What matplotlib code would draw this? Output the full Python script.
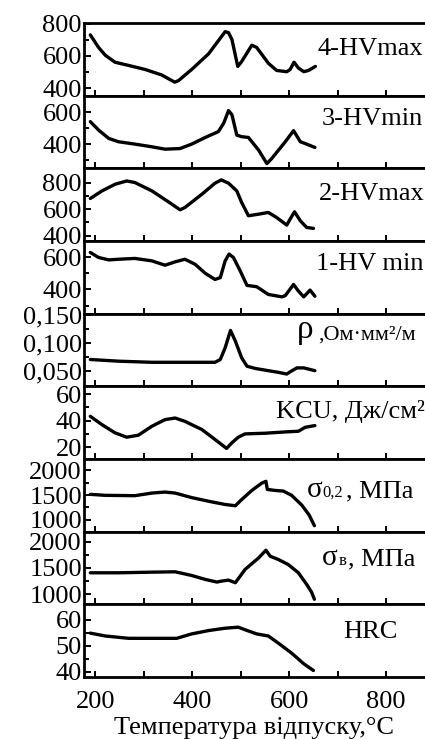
import matplotlib
matplotlib.use("Agg")
import matplotlib.pyplot as plt
from matplotlib.ticker import FixedLocator, FuncFormatter

plt.rcParams['font.family'] = ['Liberation Serif', 'DejaVu Serif']

W, H = 425, 739

# --- data (temperature in C) ---
hv4_t = [190, 207, 221, 241, 269, 303, 337, 364, 372, 399, 434, 468, 475, 482,
         494, 502, 523, 533, 557, 574, 595, 602, 610, 619, 630, 640, 654]
hv4 = [731, 653, 604, 561, 541, 516, 482, 437, 447, 516, 614, 751, 745, 702,
       535, 565, 667, 653, 555, 510, 502, 516, 561, 525, 502, 510, 535]

hv3_t = [190, 207, 228, 248, 282, 317, 344, 375, 399, 427, 454, 465, 475, 482,
         492, 502, 516, 537, 554, 564, 592, 609, 623, 636, 653]
hv3 = [542, 489, 436, 415, 400, 383, 368, 372, 400, 442, 479, 532, 612, 585,
       457, 447, 442, 362, 277, 309, 415, 485, 415, 400, 379]

hv2_t = [190, 214, 241, 265, 282, 317, 351, 375, 385, 420, 447, 460, 475, 492,
         502, 516, 537, 557, 574, 595, 602, 611, 623, 636, 650]
hv2 = [680, 737, 787, 812, 800, 737, 655, 595, 612, 712, 795, 820, 795, 737,
       650, 550, 562, 575, 537, 480, 525, 580, 512, 462, 455]

hv1_t = [190, 207, 228, 248, 282, 317, 344, 365, 385, 406, 427, 447, 458, 468,
         476, 485, 499, 513, 533, 557, 585, 592, 609, 619, 630, 639, 643, 653]
hv1 = [629, 598, 583, 587, 592, 577, 550, 571, 587, 556, 500, 462, 473, 577,
       619, 598, 515, 425, 417, 369, 354, 362, 431, 390, 354, 383, 396, 358]

rho_t = [190, 248, 317, 385, 447, 458, 468, 479, 489, 502, 513, 530, 557, 578,
         595, 602, 616, 630, 653]
rho = [0.071, 0.068, 0.066, 0.066, 0.066, 0.071, 0.092, 0.123, 0.104, 0.074,
       0.059, 0.055, 0.051, 0.048, 0.045, 0.049, 0.056, 0.056, 0.051]

kcu_t = [190, 214, 241, 265, 289, 317, 344, 365, 385, 420, 447, 471, 482, 495,
         509, 550, 592, 619, 633, 653]
kcu = [43.3, 37, 30.8, 27.5, 29, 35.8, 40.8, 42, 39.5, 33.3, 25.8, 19, 23.3,
       27.5, 30, 30.5, 31.5, 32, 35, 36.3]

s02_t = [190, 221, 282, 317, 344, 365, 399, 440, 468, 489, 502, 523, 543, 552,
         555, 571, 588, 605, 626, 641, 652]
s02 = [1515, 1495, 1488, 1541, 1561, 1541, 1449, 1363, 1310, 1284, 1409, 1594,
       1739, 1779, 1614, 1594, 1581, 1495, 1297, 1099, 881]

sb_t = [190, 248, 317, 365, 399, 427, 451, 461, 475, 489, 509, 537, 552, 561,
        578, 598, 619, 636, 646, 652]
sb = [1409, 1409, 1421, 1428, 1358, 1283, 1233, 1252, 1270, 1220, 1472, 1692,
      1837, 1723, 1660, 1566, 1409, 1189, 1044, 906]

hrc_t = [190, 221, 269, 317, 368, 399, 434, 468, 495, 509, 533, 557, 578, 605,
         630, 650]
hrc = [54.9, 53.8, 52.9, 52.9, 52.9, 54.6, 55.9, 56.8, 57.2, 56.2, 54.6, 53.8,
       51, 47.2, 43.1, 40.5]

x_major = [200, 400, 600, 800]
x_minor = [300, 500, 700]

# (x, y, ylim, major ticks, minor ticks)
panels = [
    (hv4_t, hv4, (353, 805), [400, 600, 800], [500, 700]),
    (hv3_t, hv3, (247, 706), [400, 600], [300, 500]),
    (hv2_t, hv2, (360, 907), [400, 600, 800], [500, 700]),
    (hv1_t, hv1, (250, 700), [400, 600], [300, 500]),
    (rho_t, rho, (0.023, 0.153), [0.05, 0.10, 0.15], [0.075, 0.125]),
    (kcu_t, kcu, (11, 66), [20, 40, 60], [30, 50]),
    (s02_t, s02, (760, 2230), [1000, 1500, 2000], [1250, 1750]),
    (sb_t, sb, (810, 2190), [1000, 1500, 2000], [1250, 1750]),
    (hrc_t, hrc, (38, 66), [40, 50, 60], [45, 55]),
]

fig, axes = plt.subplots(len(panels), 1, figsize=(W / 100, H / 100), dpi=100,
                         sharex=True)
fig.subplots_adjust(left=84 / W, right=1.0, top=1 - 23 / H, bottom=1 - 677 / H,
                    hspace=0)

for ax, (t, v, ylim, ymaj, ymin) in zip(axes, panels):
    ax.plot(t, v, color='black', lw=2.4, solid_joinstyle='round',
            solid_capstyle='round')
    ax.set_xlim(177, 880)
    ax.set_ylim(*ylim)
    ax.yaxis.set_major_locator(FixedLocator(ymaj))
    ax.yaxis.set_minor_locator(FixedLocator(ymin))
    ax.xaxis.set_major_locator(FixedLocator(x_major))
    ax.xaxis.set_minor_locator(FixedLocator(x_minor))
    ax.tick_params(axis='both', which='both', direction='in', width=1.4,
                   labelsize=19, colors='black')
    ax.tick_params(axis='y', which='major', length=5, pad=1.5)
    ax.tick_params(axis='y', which='minor', length=3.5)
    ax.tick_params(axis='x', which='both', length=4.5, pad=10)
    for s in ['left', 'top', 'bottom']:
        ax.spines[s].set_linewidth(2.0)
    ax.spines['right'].set_visible(False)

axes[4].yaxis.set_major_formatter(
    FuncFormatter(lambda v, pos: f"{v:.3f}".replace('.', ',')))

axes[-1].set_xlabel("Температура відпуску,°C", fontsize=19, labelpad=3)


def ftext(x, y, s, size=19, ha='left'):
    # place text by pixel position (baseline)
    fig.text(x / W, 1 - y / H, s, fontsize=size, ha=ha, va='baseline')


ftext(423, 55, "4-HVmax", ha='right')
ftext(423, 125, "3-HVmin", ha='right')
ftext(425, 200, "2-HVmax", ha='right')
ftext(423, 270, "1-HV min", ha='right')
ftext(297, 338, "ρ", size=24)
ftext(318, 340, ",Ом·мм²/м", size=16)
ftext(425, 418, "KCU, Дж/см²", ha='right')
ftext(307, 497, "σ", size=21)
ftext(322, 497, "0,2", size=12)
ftext(413, 497, ", МПа", ha='right')
ftext(322, 565, "σ", size=21)
ftext(339, 565, "в", size=12)
ftext(415, 565, ", МПа", ha='right')
ftext(398, 638, "HRC", ha='right')

fig.savefig("out.png", dpi=100)
